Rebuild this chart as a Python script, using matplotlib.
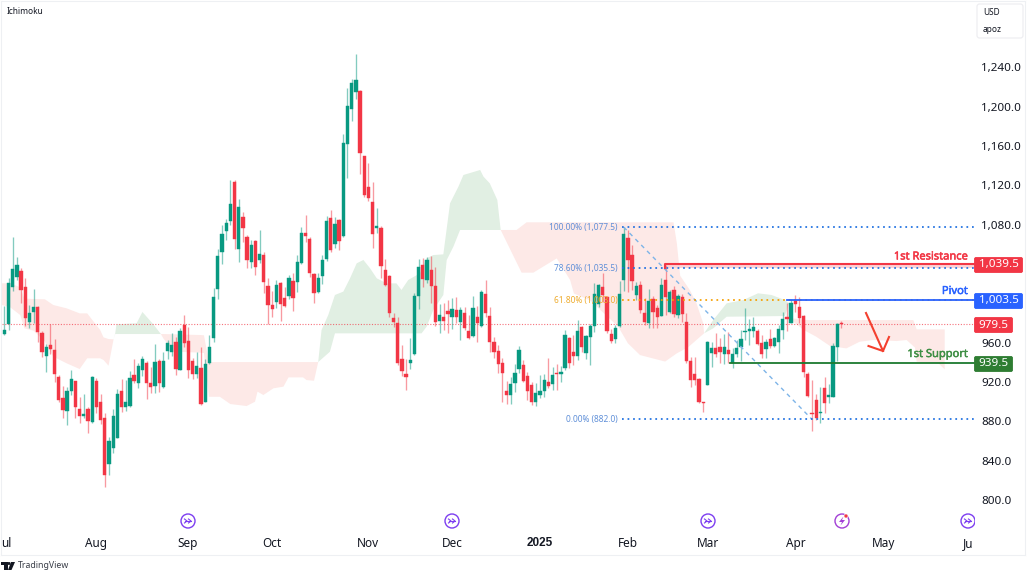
import numpy as np
import matplotlib
matplotlib.use("Agg")
import matplotlib.pyplot as plt
import matplotlib.patheffects as pe
from matplotlib.patches import Circle, FancyBboxPatch, Polygon, Rectangle
from matplotlib.lines import Line2D
from matplotlib.transforms import Affine2D

plt.rcParams['font.family'] = ['Noto Sans', 'DejaVu Sans']

# ---------- candles ----------
direction = ("GGGGRRGGRR" "GRRRRGGRRG" "RGRRRGGGRG" "GRGGRRGRGG" "GRGRRRGRGG"
             "GGGGGRGRRG" "RGRRRGRRGR" "GGRRRGGGRG" "RGGGGRRRRG" "RRRRRRRGGG"
             "RGRRGRRGRG" "RRGRGRRRRR" "RGGGRRRGGG" "RGRGGRRGRG" "GGGRRRGGGR"
             "RGRRGRRGRG" "RGRRRRRRGG" "RRGRGGGGGG" "RRGRGGGRGR" "RRRRRGRGGGR")
body_top = [972.9,1020.4,1034.6,1038.7,1032.9,1016.6,990.5,996.3,996.6,970.2,
 955.6,958,952.9,925.4,904.1,910.5,923,921,892.5,887.1,
 892.2,924.8,920.7,899.7,883.4,860,885.4,907.5,911.2,899.3,
 923.7,927.5,935.9,943,939.7,919.3,940,941.4,941.4,959.3,
 958,960.7,972.2,978.3,961.4,941.7,935.9,933.9,938.3,955.6,
 1006.1,1048.1,1070.2,1081.4,1101,1123,1097.6,1087.5,1067.8,1059.3,
 1063.1,1050.2,1049.1,1017.6,998.3,1018.3,1021,1005.4,1025.4,1023,
 1042,1071.5,1071.2,1065,1029.5,1025.4,1044.4,1084,1086.8,1080.7,
 1084.7,1162.7,1201,1223.7,1227.1,1215.9,1149.8,1118.6,1103,1078.6,
 1076.2,1033.9,1028.1,984.7,979.7,943.7,928.1,942,1007.4,1036.6,
 1039.3,1044.1,1033.9,1017.6,988.1,985.8,992.2,994.2,992.9,993.2,
 990.5,972.2,995.6,986.4,1011.9,1009.8,987.1,961,951.5,939.6,
 910.5,918.3,929.5,952.5,937.3,926.1,916.9,908.8,911.2,921.7,
 920.3,927.1,928.8,930.5,967.8,964.4,950.1,971.5,976.3,966.8,
 976.6,1009.1,1018.3,1016.3,1006.1,968.5,974.9,1009.1,1070.5,1066.1,
 1049.1,1017.9,1019,990.5,1002.7,1004,994.9,1019,1024,1011.8,
 1013.2,1007.4,1006.8,980.7,941.3,928.1,923.4,899.3,960.3,954.9,
 954.2,955.2,955.2,952.5,948.5,954.2,963.4,972.2,974.2,976.3,
 972.2,960,961,963.4,964.4,973.5,984.1,985.8,1000,1002.7,
 996.6,987.4,927.8,888.8,901.3,889.1,913.6,906.4,956.6,978.6,980]
body_bot = [968.8,978.7,1017,1026.8,1013.6,985.4,981.4,991.2,970.9,950.5,
 946.8,953.2,928.5,901.7,891.5,890.2,910.8,894.9,885.8,885.4,
 880.7,879,894.2,881.4,825.1,836.3,852.9,863.4,894.9,894.6,
 895.6,921.4,919.3,932.2,918.6,914.6,916.3,919.3,914.9,951.2,
 950.9,932.9,932.6,959.7,932.2,928.5,928.1,897.3,899.7,939,
 964.8,1014.2,1052.6,1073.9,1084,1065,1055.6,1076.6,1044.1,1041.7,
 1036.6,1044.1,1022,998.3,994.6,1001.3,999.3,997.3,1007.4,1005.8,
 1022,1041.3,1068.1,1030.8,1010.8,1011.5,1027.8,1044.7,1054.2,1060.3,
 1063.4,1068.1,1162.4,1197.3,1215.3,1152.5,1109.8,1107.5,1070.5,1076.2,
 1038,1018.6,990.5,981,939.6,931.2,925.1,939.3,948.8,1007.4,
 1025.1,1023.7,1017.6,981.3,982,981.7,988.8,986.4,986.4,981,
 974.6,964.4,967.1,979.7,976.9,990.5,960.3,950.8,938.3,929.5,
 906.8,906.8,918.6,933.2,921,910.8,900,899.3,906.8,910.8,
 915.9,917.9,927.8,928.1,933.9,939.6,946.4,946.4,955.9,949.1,
 966.1,977.3,999.3,1008.5,971.8,962,963.7,976.9,1023.7,1044,
 1022.7,1008.5,993.2,980.7,980.3,991.2,985.7,987.1,1006.1,991.2,
 989.1,988.1,989.1,941.7,922,922,900,899,916.9,949.1,
 948.5,950.8,948.5,948.5,939,948.1,955.2,971.2,972.2,972.2,
 958.6,948.5,953.9,956.6,956.6,961,972.9,983.7,979.7,999.3,
 984.7,929.8,906.1,887.4,883,888.1,899,904.4,905.1,955.2,979.5]
highs = [997.3,1025.4,1067.1,1046.8,1035.6,1025.4,998,1014.2,997.3,972.2,
 958.7,978.7,963.4,926.8,915.9,915.3,932.2,921,905.1,907.5,
 894.2,926.1,924.4,907.8,888.1,864.4,892.2,912.9,923,922,
 931.5,943,939,946.4,941.7,934.9,958.3,943.4,950.8,962.7,
 969.5,965.4,974.6,988.1,976.3,944.1,950.8,956,943,967.8,
 1015.6,1055.3,1080,1085.4,1125.4,1125.4,1106,1092.6,1069.5,1064.4,
 1064.4,1074.9,1052.2,1025.8,1012.9,1023.7,1021.7,1017,1028.8,1030.5,
 1049.1,1077.6,1089.8,1067.8,1030.5,1031.2,1049.1,1088.8,1094.6,1087.5,
 1086.1,1171.9,1218.6,1227.8,1253.6,1217,1150.2,1142.4,1123,1096.6,
 1078.6,1044.7,1028.8,990.5,986.4,957.6,943,964.4,1010.8,1045.1,
 1045.8,1047.5,1048.1,1037.3,999,1000,1003.4,1005.8,1006.1,996.6,
 996.6,988.1,1007.8,997.3,1013.6,1023.7,996.6,966.1,957.6,944,
 921.3,925.4,938.3,956.6,942.4,930.5,920.3,918.6,927.1,927.8,
 944,935.6,938.3,936.3,972.9,966.1,967.8,983,976.9,967.8,
 978.6,1021,1019.6,1031.2,1007.4,973.5,978,1022.7,1077.5,1074.6,
 1059.3,1022,1023,1005.1,1014.2,1007.4,998.3,1025.4,1039,1013.5,
 1017.6,1009.5,1009.5,990.5,945.7,945.7,923.7,899.3,961.7,961,
 969.5,964.4,968.8,971.2,954.2,962.7,972.9,994.9,983.7,986.4,
 973.5,967.8,963.4,973.5,966.1,977.9,991.5,1000,1004,1008.5,
 1006.1,988.1,930.5,922,907.8,915.2,925.4,917.9,959.3,979.6,982]
lows = [967.8,972.9,1012.9,1023.7,1000,977,975.3,979.7,960.3,945.8,
 929.8,948.5,920.3,899.7,883,876,906.4,883,878,883,
 867.8,878,888.1,877.3,813.6,825.1,847.5,863.4,889.5,890.9,
 894.9,918.6,913.6,926.4,903,908.5,909.2,910.2,913.6,943,
 946.8,927.1,932.2,956,924.4,922.7,923.7,896.6,899.7,938.3,
 960.7,1004.4,1039.7,1064.4,1079.7,1054.9,1042,1062.7,1035.6,1035.6,
 1028.8,1040.7,1010.8,979,985.8,995.6,982.4,996.6,1004.4,992.2,
 1011.2,1040,1062.4,1026.4,1000.7,1010.8,1019.3,1043,1052.2,1056.6,
 1054.2,1067.8,1127.8,1185.4,1208.1,1131.2,1108.5,1103.7,1055.9,1071.9,
 1025.4,1017.6,985.8,975.6,937.3,926.1,912.2,933.5,947.8,993.9,
 1016.9,1021,1000,976.9,969.5,972.9,970.2,973.5,979.7,962.7,
 972.9,963.4,966.1,961,975.6,986.4,950.8,944.7,928.8,900,
 897.6,897.3,910.2,928.8,920.3,901.7,896.6,895.6,903.4,904.4,
 913.5,911.8,911.8,920.3,932.2,933.9,937.3,942.4,950.8,943.4,
 937.3,971.2,996.6,1001.7,969.5,960,959.3,976.2,1012.5,1011.8,
 1013.5,1003.4,989.8,977.9,974.6,974.6,974.6,987.1,988.1,989.8,
 986.4,984.7,980.7,939,915.2,916.9,899,889.8,916.9,935.6,
 945.7,938.9,938.3,939.6,933.9,945.7,941.7,962.7,957.6,966.1,
 957.6,944,944,954.2,955.2,949.1,964,972.2,979.7,991.5,
 979.7,925.4,904.4,870.5,881.3,878,888.8,898.3,905.1,941.7,974.6]

# ---------- Ichimoku cloud (bar number, price) ----------
red1_x = [0.4,2.4,4.8,5.8,8,10.7,12.7,15.9,19,20.8,23.9,24.7,25.9,27.1]
red1_up = [1020.4,1020.4,1016.3,1004.8,1004.4,1004.1,998.3,994.9,989.8,989.8,972.9,965.4,963.7,963.4]
red1_lo = [998.3,996,988.1,974.6,972.2,961,945.8,939,933.2,944.1,944.1,942.4,936.6,963.4]

green1_x = [27.1,27.5,27.8,32.6,34,36.6,38.4]
green1_up = [963.4,969.5,978.7,979.7,991.2,978.7,968.8]
green1_lo = [963.4,968.8,968.8,968.8,968.8,968.8,968.8]

red2_x = [38.4,39,41.4,47.8,48.7,49.9,52.5,55,58.9,60.9,61.5,62.9,65.3,67.7,68.9,72.4,73.2,75,76]
red2_up = [968.8,968.8,968.5,967.8,967.5,940.3,940.3,940.3,940.3,940.3,940.3,940.3,940.3,940.3,940.3,940.3,940.3,940.3,940.3]
red2_lo = [968.8,964.4,950.9,949.9,949.5,905,905,897.6,895.6,900,910.2,906.8,913.6,915.3,924.7,924.7,922,921.3,940.3]

green2_up_x = [76,76.8,78.4,80,82,83.6,85.2,86.8,88.4,90,92.4,94.7,95.9,97.5,100.3,101.9,103.5,105.9,107.5,109.5,110.7,114.7,115.5,117,118.8,119.6]
green2_up = [940.3,972.9,988.1,1008.5,1011.9,1025.4,1040.7,1044.1,1035.6,1025.4,1020.3,1020.3,1013.6,1023.7,1030.5,1045.8,1049.1,1049.8,1101.7,1118.6,1130.5,1135.6,1128.8,1122,1105.1,1074.6]
green2_lo_x = [76,78,78.8,80,100.7,101.9,103.5,105.9,106.7,108.3,109.9,119.6]
green2_lo = [940.3,947.8,950.8,969.5,969.5,976.3,993.2,1008.5,1044,1057.6,1074.6,1074.6]

red3_up_x = [118.8,119.6,123.4,125.8,160.9,161.7,162.1,162.5,164.8,166.4,168,168.2]
red3_up = [1105.1,1074.6,1074.6,1082.4,1082.4,1061,1044,1028,1013.5,1000,979.6,969.5]
red3_lo_x = [118.8,119.6,124.6,127.4,133,136.2,137.1,141,147.7,150,152.9,158.9,161.7,164.4,168.2]
red3_lo = [1105.1,1074.6,1031.2,1031.2,1045.7,1023.7,1010,1003,976.2,959.4,947.4,940.8,949.2,955.4,969.5]

green3_up_x = [168.2,170.4,173.6,177.6,181.1,184.3,187.5,188.5]
green3_up = [969.5,983,1000,1003.4,1010.2,1008.5,1003.4,1000]
green3_lo_x = [168.2,170.4,173.6,187.5,188.5]
green3_lo = [969.5,974.6,986.4,987.1,1000]

red4_up_x = [188.5,193,218.2,219,225.7]
red4_up = [985,983,983,973.5,973.5]
red4_lo_x = [188.5,192,195,198.3,202.2,205.4,208.6,214.2,216.6,218.6,219,224.2,225.7]
red4_lo = [985,972.9,966.1,956.6,954.2,961,962.7,961.7,962.7,955,940.7,939,932.9]

# ---------- levels, ticks, labels ----------
resistance = 1039.5
pivot = 1003.5
support = 939.5
last_price = 979.5
fib_levels = [1077.5, 1035.5, 1003.0, 882.0]
fib_labels = ["100.00% (1,077.5)", "78.60% (1,035.5)", "61.80% (1,003.0)", "0.00% (882.0)"]
fib_trend_x = [149, 194]
fib_trend_y = [1077.5, 882.0]
level_start = {"res": 158.9, "piv": 188, "sup": 174.5, "fib": 148.5}
price_ticks = [800, 840, 880, 920, 960, 1080, 1120, 1160, 1200, 1240]
month_pos = [1.4, 22.9, 44.9, 65, 87.9, 108, 129, 150, 169.2, 190.2, 211, 231.3]
month_names = ["ul", "Aug", "Sep", "Oct", "Nov", "Dec", "2025", "Feb", "Mar", "Apr", "May", "Ju"]

GREEN = '#089981'
RED = '#f23645'
W, H = 1029, 572

fig = plt.figure(figsize=(W / 100, H / 100), dpi=100, facecolor='white')
L, R, T, B = 2, 975, 2, 532
ax = fig.add_axes([L / W, 1 - B / H, (R - L) / W, (B - T) / H])
PPU = 0.9835
ax.set_ylim(1240 - (B - 67.3) / PPU, 1240 + (67.3 - T) / PPU)
ax.set_xlim((L - 4.33) / 4.185 + 1, (R - 4.33) / 4.185 + 1)
for s in ax.spines.values():
    s.set_visible(False)

px = Affine2D().scale(1, -1).translate(0, H)  # figure pixels from the top-left


# clouds
def cloud(ux, uy, lx, ly, color):
    ax.fill(np.r_[ux, lx[::-1]], np.r_[uy, ly[::-1]], color=color, lw=0, zorder=1)


PINK, MINT = '#fde9e7', '#e1efe3'
cloud(red1_x, red1_up, red1_x, red1_lo, PINK)
cloud(green1_x, green1_up, green1_x, green1_lo, MINT)
cloud(red2_x, red2_up, red2_x, red2_lo, PINK)
cloud(green2_up_x, green2_up, green2_lo_x, green2_lo, MINT)
cloud(red3_up_x, red3_up, red3_lo_x, red3_lo, PINK)
cloud(green3_up_x, green3_up, green3_lo_x, green3_lo, MINT)
cloud(red4_up_x, red4_up, red4_lo_x, red4_lo, PINK)

# last price line
ax.axhline(last_price, color=RED, lw=0.8, ls=(0, (1, 1.5)), alpha=0.7, zorder=2)

# candles
x = np.arange(1, len(body_top) + 1)
top = np.array(body_top)
bot = np.array(body_bot)
colors = np.array([GREEN if d == 'G' else RED for d in direction])
for c in (GREEN, RED):
    m = colors == c
    ax.vlines(x[m], np.array(lows)[m], np.array(highs)[m], color=c, lw=0.95, alpha=0.5, zorder=3)
    ax.bar(x[m], (top - bot)[m], bottom=bot[m], width=0.78, color=c, edgecolor=c, lw=0.3, zorder=4)

# fibonacci
ax.plot(fib_trend_x, fib_trend_y, color='#7db4e8', lw=1.0, ls=(0, (3, 3)), zorder=5)
xmax = ax.get_xlim()[1]
fib_cols = ['#1e6fe0', '#1e6fe0', '#f59f00', '#1e6fe0']
text_cols = ['#5f8fd8', '#5f8fd8', '#eeab2c', '#5f8fd8']
for lv, lb, c, tc in zip(fib_levels, fib_labels, fib_cols, text_cols):
    ax.plot([level_start["fib"], xmax], [lv, lv], color=c, lw=1.25, ls=(0, (1, 2.2)), zorder=5)
    ax.text(147.6, lv, lb, color=tc, fontsize=6, ha='right', va='center', zorder=6)

# horizontal levels
ax.fill_between([level_start["res"], xmax], fib_levels[1], resistance, color='#fbd3d6', lw=0, zorder=2)
ax.plot([level_start["res"], level_start["res"], xmax], [fib_levels[1], resistance, resistance],
        color=RED, lw=1.5, zorder=6)
ax.plot([level_start["piv"], xmax], [pivot, pivot], color='#2962ff', lw=1.3, zorder=6)
ax.plot([level_start["sup"], xmax], [support, support], color='#1b7a2f', lw=1.3, zorder=6)

# axes ticks
ax.yaxis.tick_right()
ax.set_yticks(price_ticks)
ax.set_yticklabels([f"{v:,.1f}" for v in price_ticks], fontsize=8.4, color='#131722')
ax.tick_params(axis='y', length=0, pad=4.6)
ax.set_xticks(month_pos)
ax.set_xticklabels(month_names, fontsize=8.5, color='#131722')
ax.tick_params(axis='x', length=0, pad=3.6)
for t in ax.get_xticklabels():
    if t.get_text() == "2025":
        t.set_fontfamily('Liberation Sans')
        t.set_fontweight('bold')

# level captions and price pills
captions = [("1st Resistance", 257, RED), ("Pivot", 291.5, '#2962ff'), ("1st Support", 354.5, '#3f8f45')]
for s, yy, c in captions:
    fig.text(968 / W, 1 - yy / H, s, color=c, fontsize=8, ha='right', va='center',
             path_effects=[pe.withStroke(linewidth=0.35, foreground=c)])
pills = [(resistance, 49, RED, 265), (pivot, 49, '#2962ff', 301),
         (last_price, 39, RED, 325), (support, 39, '#2e7d32', 364)]
for val, w, c, yc in pills:
    fig.add_artist(FancyBboxPatch((974.5, yc - 7.5), w - 1, 15, boxstyle="round,pad=0,rounding_size=1.5",
                                  transform=px, fc=c, ec=c, lw=0.6))
    fig.text((974.5 + (w - 1) / 2) / W, 1 - yc / H, f"{val:,.1f}", color='white', fontsize=8.4,
             ha='center', va='center')

# hand-drawn arrow
fig.add_artist(Line2D([866, 883], [313, 351], transform=px, color='#f4402f', lw=1.5))
fig.add_artist(Line2D([868.5, 883, 889], [346, 351, 337], transform=px, color='#f4402f', lw=1.5))

# event icons
PURPLE = '#7c3df0'
clip = Rectangle((0, 0), 975, H, transform=px)
for cx in (188, 452, 708, 968):
    c1 = Circle((cx, 521), 7, transform=px, fc='white', ec=PURPLE, lw=1)
    l1 = Line2D([cx - 3, cx + 3], [521, 521], transform=px, color=PURPLE, lw=0.8)
    l2 = Line2D([cx + 0.5, cx + 3, cx + 0.5], [519, 521, 523], transform=px, color=PURPLE, lw=0.8)
    l3 = Line2D([cx - 3.5, cx - 1, cx - 3.5], [519, 521, 523], transform=px, color=PURPLE, lw=0.8)
    for a in (c1, l1, l2, l3):
        fig.add_artist(a)
        a.set_clip_path(clip)
fig.add_artist(Circle((842, 521), 7, transform=px, fc='white', ec='#a23fd6', lw=1))
fig.add_artist(Polygon([[843.5, 516.5], [839, 522], [842, 522], [840.5, 525.5], [845, 520], [842, 520]],
                       transform=px, fc='#a23fd6', ec='none'))
fig.add_artist(Circle((846, 516), 2, transform=px, fc=RED, ec='white', lw=0.4))

# USD box and caption
fig.add_artist(FancyBboxPatch((977, 4), 46, 34, boxstyle="round,pad=0,rounding_size=2.5",
                              transform=px, fc='white', ec='#ececf0', lw=0.8))
fig.text(983 / W, 1 - 12.5 / H, "USD", fontsize=6, color='#131722', va='center')
fig.text(983 / W, 1 - 29 / H, "apoz", fontsize=6, color='#131722', va='center')
fig.text(7 / W, 1 - 11 / H, "Ichimoku", fontsize=6, color='#131722', va='center')

# frame
for xs, ys in (([1, 1], [1, 555]), ([1, 1025], [555, 555]), ([1025, 1025], [1, 555]), ([1, 1025], [1, 1])):
    fig.add_artist(Line2D(xs, ys, transform=px, color='#eef0f3', lw=0.8))

# TradingView mark
fig.add_artist(Polygon([[1, 562], [7.5, 562], [7.5, 570], [4, 570], [4, 565], [1, 565]],
                       transform=px, fc='#131722', ec='none'))
fig.add_artist(Circle((9, 563.5), 1.5, transform=px, fc='#131722', ec='none'))
fig.add_artist(Polygon([[11, 562], [15, 562], [11.5, 570], [8, 570]], transform=px, fc='#131722', ec='none'))
fig.text(18 / W, 1 - 566 / H, "TradingView", fontsize=6.3, color='#3a3e48', va='center')

fig.savefig('out.png', dpi=100, facecolor='white')
